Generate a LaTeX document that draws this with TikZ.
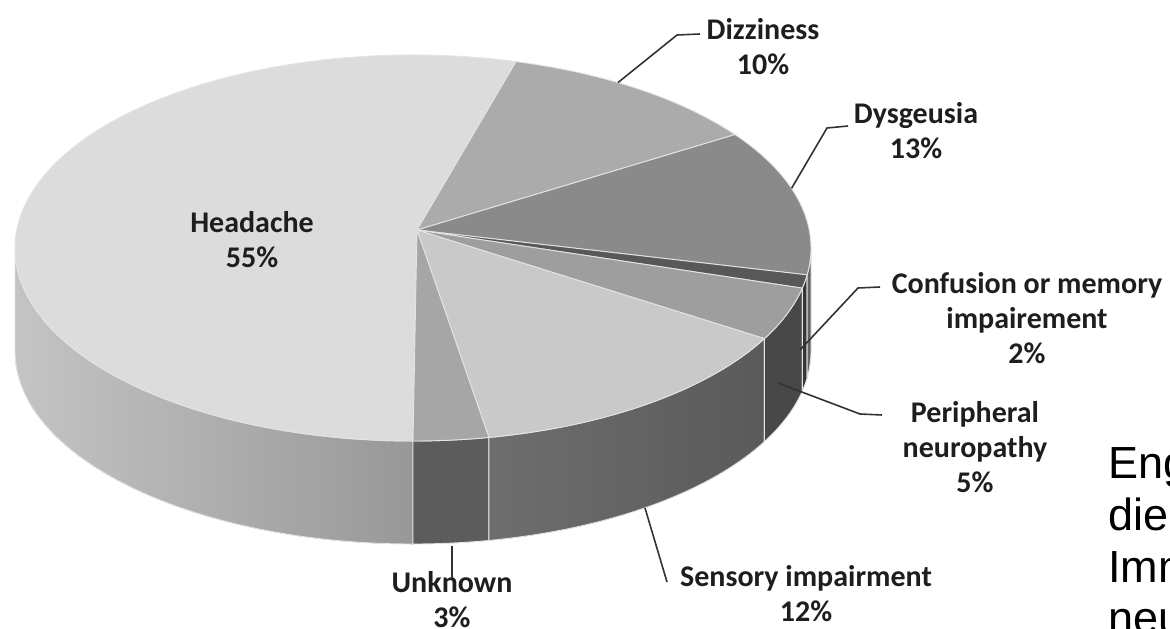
\documentclass[tikz,border=0pt]{standalone}
\usepackage{fontspec}
\setmainfont{Carlito}
\newfontfamily\arialf{Liberation Sans}
\usetikzlibrary{calc}
\definecolor{hTop}{HTML}{DCDCDC}
\definecolor{dzTop}{HTML}{ABABAB}
\definecolor{dyTop}{HTML}{8A8A8A}
\definecolor{cfTop}{HTML}{585858}
\definecolor{pnTop}{HTML}{9E9E9E}
\definecolor{seTop}{HTML}{C9C9C9}
\definecolor{unTop}{HTML}{A6A6A6}
\definecolor{hSideL}{HTML}{C4C4C4}
\definecolor{hSideR}{HTML}{989898}
\definecolor{unSide}{HTML}{5C5C5C}
\definecolor{seSideL}{HTML}{6E6E6E}
\definecolor{seSideR}{HTML}{5A5A5A}
\definecolor{pnSide}{HTML}{484848}
\definecolor{cfSide}{HTML}{363636}
\definecolor{dySide}{HTML}{646464}
\definecolor{sepCol}{HTML}{E4E4E4}
\definecolor{labelText}{HTML}{1E1E1E}
\definecolor{leaderCol}{HTML}{333333}
\newcommand\piesidepiece[3]{%
  \filldraw[#3] ($(C)+(#1:398pt and 193pt)$) arc[start angle=#1,end angle=#2,x radius=398pt,y radius=193pt]
    -- ++(0,-103) arc[start angle=#2,end angle=#1,x radius=398pt,y radius=193pt] -- cycle;}
\newcommand\pietoppiece[3]{%
  \filldraw[#3] (A) -- ($(C)+(#1:398pt and 193pt)$) arc[start angle=#1,end angle=#2,x radius=398pt,y radius=193pt] -- cycle;}
\begin{document}
\begin{tikzpicture}[x=1pt,y=1pt,
  lbl/.style={font=\bfseries\fontsize{30}{35}\selectfont, align=center, text=labelText, inner sep=0pt},
  leader/.style={draw=leaderCol, line width=1.6pt, line join=round},
  sep/.style={draw=sepCol, line width=0.9pt, line join=round},
  german/.style={font=\arialf\fontsize{45}{52}\selectfont, anchor=base west, inner sep=0pt}]
\useasboundingbox (0,-629) rectangle (1170,0);
\clip (0,-629) rectangle (1170,0);
\coordinate (C) at (413,-248);
\coordinate (A) at (417,-230);
% side wall
\piesidepiece{180}{270}{sep, left color=hSideL, right color=hSideR}
\piesidepiece{270}{281}{sep, fill=unSide}
\piesidepiece{281}{332}{sep, left color=seSideL, right color=seSideR}
\piesidepiece{332}{348}{sep, fill=pnSide}
\piesidepiece{348}{352}{sep, fill=cfSide}
\piesidepiece{352}{360}{sep, fill=dySide}
% top faces
\pietoppiece{75}{270}{sep, fill=hTop}
\pietoppiece{36}{75}{sep, fill=dzTop}
\pietoppiece{-8}{36}{sep, fill=dyTop}
\pietoppiece{-12}{-8}{sep, fill=cfTop}
\pietoppiece{-28}{-12}{sep, fill=pnTop}
\pietoppiece{-79}{-28}{sep, fill=seTop}
\pietoppiece{-90}{-79}{sep, fill=unTop}
% labels
\node[lbl] (headache) at (252,-240) {Headache\\55\%};
\node[lbl] (dizziness) at (763,-47) {Dizziness\\10\%};
\node[lbl] (dysgeusia) at (916,-131) {Dysgeusia\\13\%};
\node[lbl] (confusion) at (1027,-318) {Confusion or memory\\impairement\\2\%};
\node[lbl] (peripheral) at (975,-447) {Peripheral\\neuropathy\\5\%};
\node[lbl] (sensory) at (806,-594) {Sensory impairment\\12\%};
\node[lbl] (unknown) at (452,-600) {Unknown\\3\%};
% leader coordinates
\coordinate (dzA) at ($(C)+(59:398pt and 193pt)$);
\coordinate (dzB) at (677,-35);
\coordinate (dzC) at (700,-34);
\coordinate (dyA) at ($(C)+(18:398pt and 193pt)$);
\coordinate (dyB) at (827,-128);
\coordinate (dyC) at (848,-126);
\coordinate (cfA) at (800,-350);
\coordinate (cfB) at (858,-288);
\coordinate (cfC) at (880,-287);
\coordinate (pnA) at (778,-383);
\coordinate (pnB) at (860,-414);
\coordinate (pnC) at (882,-415);
\coordinate (seA) at (645,-508);
\coordinate (seB) at (667,-582);
\coordinate (unA) at (452,-546);
\coordinate (unB) at (452,-578);
\draw[leader] (dzA) -- (dzB) -- (dzC);
\draw[leader] (dyA) -- (dyB) -- (dyC);
\draw[leader] (cfA) -- (cfB) -- (cfC);
\draw[leader] (pnA) -- (pnB) -- (pnC);
\draw[leader] (seA) -- (seB);
\draw[leader] (unA) -- (unB);
% cut-off German text
\node[german] (g1) at (1108,-478) {Eng};
\node[german] (g2) at (1108,-530) {die};
\node[german] (g3) at (1108,-582) {Imm};
\node[german] (g4) at (1108,-633) {neu};
\end{tikzpicture}
\end{document}
